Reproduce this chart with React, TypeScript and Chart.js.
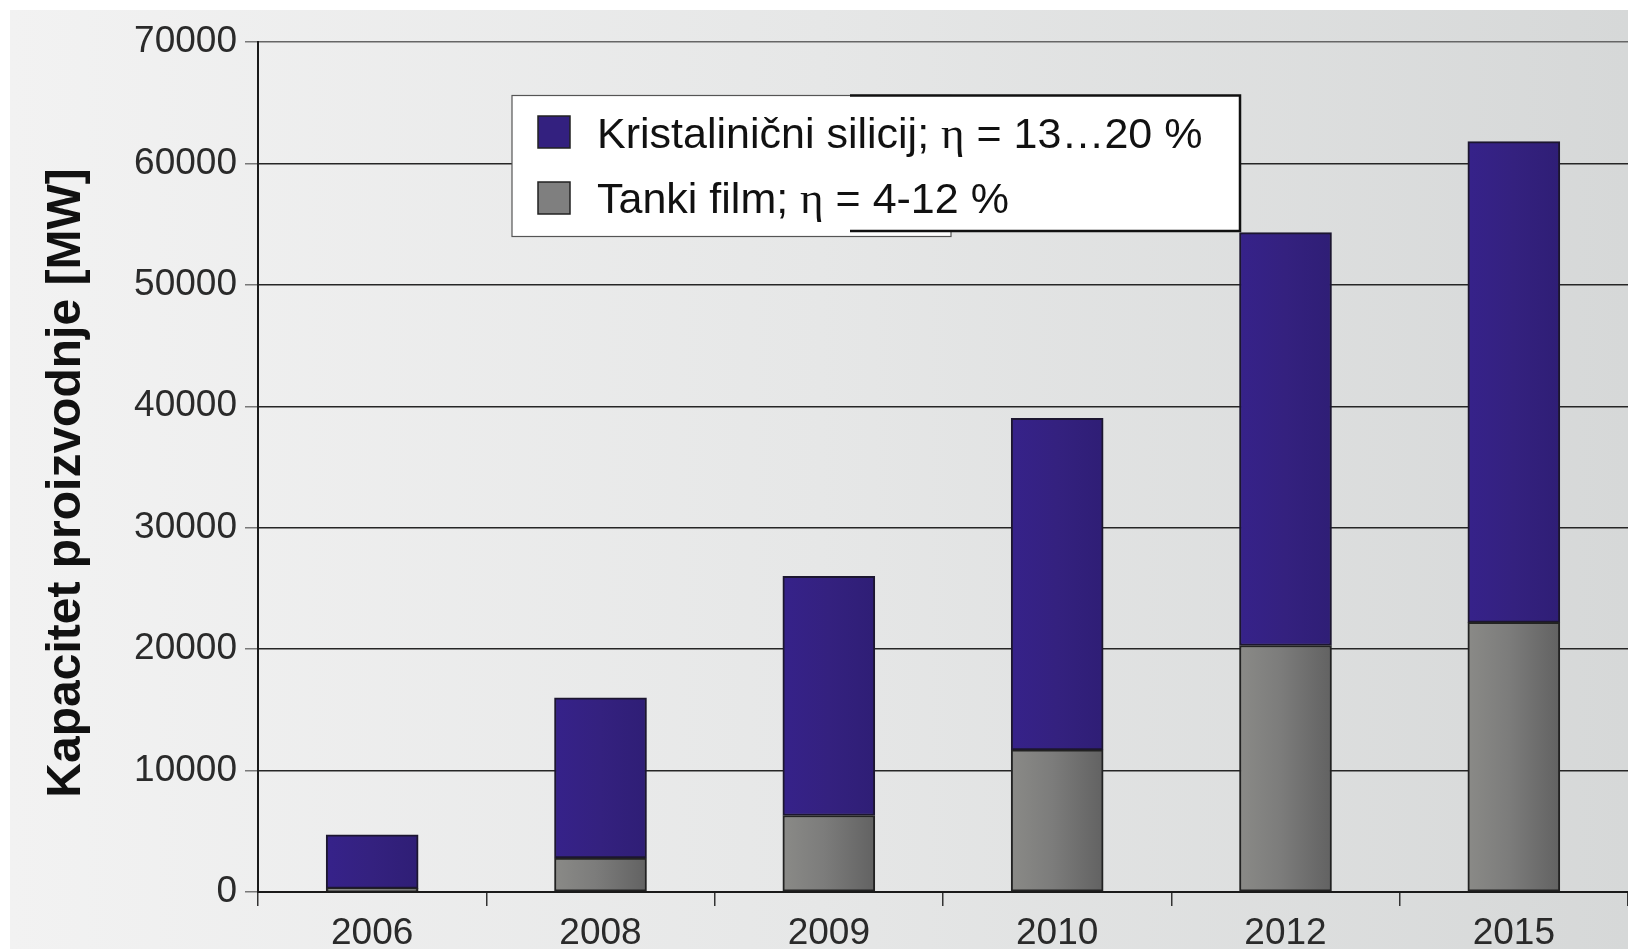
import { useEffect, useRef } from "react";
import { Chart, registerables } from "chart.js";

Chart.register(...registerables);

const categories = ["2006", "2008", "2009", "2010", "2012", "2015"];
const thinFilm = [300, 2800, 6300, 11700, 20300, 22200];
const crystalline = [4400, 13200, 19700, 27300, 34000, 39600];
const yMax = 70000;
const yStep = 10000;
const seriesNames = ["Kristalinični silicij; η = 13…20 %", "Tanki film; η = 4-12 %"];
const yTitle = "Kapacitet proizvodnje [MW]";

const W = 1628;
const H = 949;
const SANS = '"Liberation Sans", Arial, sans-serif';
const SERIF = '"Liberation Serif", "Times New Roman", serif';

const backgroundPlugin = {
  id: "bgPlugin",
  beforeDraw(chart: any) {
    const ctx = chart.ctx;
    ctx.save();
    ctx.fillStyle = "#ffffff";
    ctx.fillRect(0, 0, W, H);
    const g = ctx.createLinearGradient(10, 0, W, 0);
    g.addColorStop(0, "#f2f2f2");
    g.addColorStop(0.5, "#e6e7e7");
    g.addColorStop(1, "#d6d8d8");
    ctx.fillStyle = g;
    ctx.fillRect(10, 10, W - 10, H - 10);
    ctx.restore();
  },
};

function drawMixed(ctx: any, x: number, y: number, text: string) {
  const parts = text.split("η");
  let cx = x;
  parts.forEach((p, i) => {
    ctx.font = `43px ${SANS}`;
    ctx.fillText(p, cx, y);
    cx += ctx.measureText(p).width;
    if (i < parts.length - 1) {
      ctx.font = `45px ${SERIF}`;
      ctx.fillText("η", cx, y);
      cx += ctx.measureText("η").width;
    }
  });
}

const overlayPlugin = {
  id: "overlayPlugin",
  afterDraw(chart: any) {
    const ctx = chart.ctx;
    ctx.save();
    ctx.save();
    ctx.translate(80, 483);
    ctx.rotate(-Math.PI / 2);
    ctx.font = `bold 48px ${SANS}`;
    ctx.fillStyle = "#111111";
    ctx.textAlign = "center";
    ctx.textBaseline = "alphabetic";
    ctx.fillText(yTitle, 0, 0);
    ctx.restore();

    ctx.fillStyle = "#ffffff";
    ctx.fillRect(512, 95, 439, 141);
    ctx.strokeStyle = "#555555";
    ctx.lineWidth = 1.2;
    ctx.strokeRect(512, 95.5, 439, 141);
    ctx.fillStyle = "#ffffff";
    ctx.fillRect(850, 95, 390, 136);
    ctx.strokeStyle = "#111111";
    ctx.lineWidth = 2.5;
    ctx.beginPath();
    ctx.moveTo(850, 95.5);
    ctx.lineTo(1240, 95.5);
    ctx.lineTo(1240, 231);
    ctx.lineTo(850, 231);
    ctx.stroke();

    const sw = [
      { y: 116, c: "#33207f" },
      { y: 182, c: "#7f7f7f" },
    ];
    sw.forEach((s) => {
      ctx.fillStyle = s.c;
      ctx.fillRect(538, s.y, 32, 32);
      ctx.strokeStyle = "#222222";
      ctx.lineWidth = 1.5;
      ctx.strokeRect(538, s.y, 32, 32);
    });

    ctx.fillStyle = "#111111";
    ctx.textAlign = "left";
    ctx.textBaseline = "alphabetic";
    drawMixed(ctx, 597, 148, seriesNames[0]);
    drawMixed(ctx, 597, 213, seriesNames[1]);
    ctx.restore();
  },
};

export default function App() {
  const ref = useRef<HTMLCanvasElement | null>(null);

  useEffect(() => {
    if (!ref.current) return;
    const grayFill = (c: any) => {
      const chart = c.chart;
      const xs = chart.scales && chart.scales.x;
      if (!xs || c.dataIndex === undefined || !chart.chartArea) return "#7a7a7a";
      const cx = xs.getPixelForValue(c.dataIndex);
      const g = chart.ctx.createLinearGradient(cx - 46, 0, cx + 46, 0);
      g.addColorStop(0, "#8a8a87");
      g.addColorStop(0.45, "#7c7c7b");
      g.addColorStop(1, "#626262");
      return g;
    };
    const purpleFill = (c: any) => {
      const chart = c.chart;
      const xs = chart.scales && chart.scales.x;
      if (!xs || c.dataIndex === undefined || !chart.chartArea) return "#33207f";
      const cx = xs.getPixelForValue(c.dataIndex);
      const g = chart.ctx.createLinearGradient(cx - 46, 0, cx + 46, 0);
      g.addColorStop(0, "#36228a");
      g.addColorStop(0.5, "#34217f");
      g.addColorStop(1, "#2f1e76");
      return g;
    };

    const chart = new Chart(ref.current, {
      type: "bar",
      data: {
        labels: categories,
        datasets: [
          {
            label: seriesNames[1],
            data: thinFilm,
            backgroundColor: grayFill,
            borderColor: "#222222",
            borderWidth: 2,
            borderSkipped: false,
            barThickness: 92,
          },
          {
            label: seriesNames[0],
            data: crystalline,
            backgroundColor: purpleFill,
            borderColor: "#1c1630",
            borderWidth: 2,
            borderSkipped: false,
            barThickness: 92,
          },
        ],
      },
      options: {
        responsive: false,
        animation: false,
        layout: { padding: { top: 42, left: 0, right: 0, bottom: 0 } },
        plugins: {
          legend: { display: false },
          tooltip: { enabled: false },
          title: { display: false },
        },
        scales: {
          x: {
            stacked: true,
            grid: {
              display: true,
              drawOnChartArea: false,
              drawTicks: true,
              offset: true,
              tickLength: 14,
              tickColor: "#333333",
              lineWidth: 1.5,
            },
            border: { display: true, color: "#1a1a1a", width: 2 },
            ticks: {
              color: "#2a2a2a",
              font: { family: SANS, size: 37 },
              padding: 6,
              maxRotation: 0,
            },
            afterFit: (s: any) => {
              s.height = 57;
            },
          },
          y: {
            stacked: true,
            min: 0,
            max: yMax,
            grid: {
              color: (c: any) => (c.tick && c.tick.value === yMax ? "#666666" : "#262626"),
              lineWidth: 1.5,
              tickLength: 13,
              tickColor: "#777777",
            },
            border: { display: true, color: "#1a1a1a", width: 2 },
            ticks: {
              stepSize: yStep,
              color: "#2a2a2a",
              font: { family: SANS, size: 37 },
              padding: 8,
              callback: (v: any) => String(v),
            },
            afterFit: (s: any) => {
              s.width = 258;
            },
          },
        },
      },
      plugins: [backgroundPlugin, overlayPlugin],
    });
    return () => chart.destroy();
  }, []);

  return (
    <div style={{ position: "fixed", left: 0, top: 0, width: W, height: H }}>
      <canvas ref={ref} width={W} height={H} style={{ display: "block", width: W, height: H }} />
    </div>
  );
}
